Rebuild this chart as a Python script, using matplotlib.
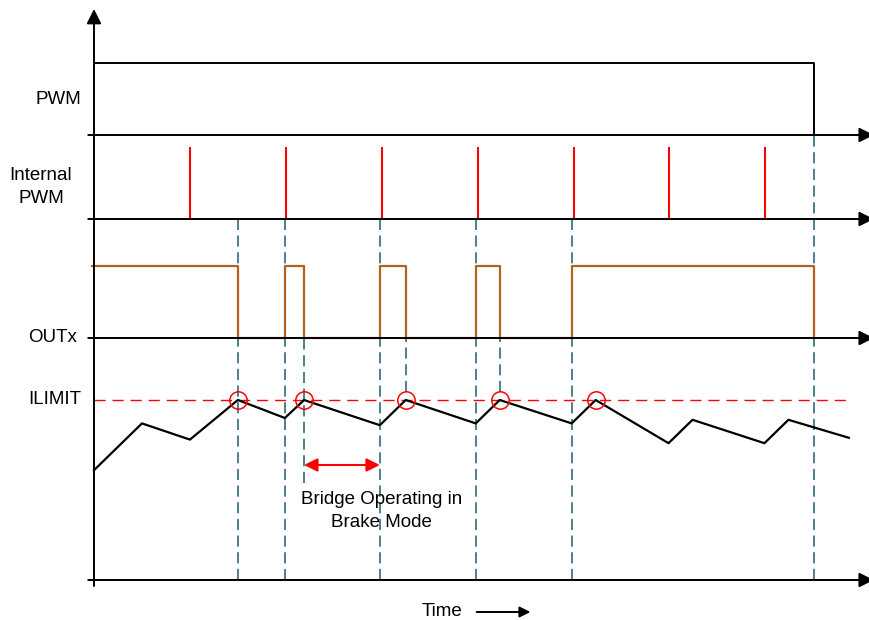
import matplotlib
matplotlib.use('Agg')
import matplotlib.pyplot as plt

plt.rcParams['font.family'] = ['Liberation Sans', 'DejaVu Sans']
plt.rcParams['lines.scale_dashes'] = False

# time in units of the internal PWM period
pwm_on = [0.0, 7.51]                       # input PWM high interval
chop_t = [1, 2, 3, 4, 5, 6, 7]             # internal PWM pulses
out_t = [-0.02, 1.50, 1.99, 2.19, 2.98, 3.25, 3.98, 4.23, 4.98, 7.51]
out_s = [1, 0, 1, 0, 1, 0, 1, 0, 1, 0]
cur_t = [0.0, 0.50, 1.0, 1.50, 1.99, 2.19, 2.98, 3.25, 3.98, 4.23,
         4.98, 5.23, 5.99, 6.24, 6.99, 7.24, 7.87]
cur_i = [0.61, 0.87, 0.78, 1.0, 0.90, 1.0, 0.86, 1.0, 0.87, 1.0,
         0.87, 1.0, 0.76, 0.89, 0.76, 0.89, 0.79]   # relative to ILIMIT
ilimit = 1.0
ilimit_end = 7.88
hit_t = [1.50, 2.19, 3.25, 4.23, 5.23]     # current reaches ILIMIT
sync_t = [1.50, 1.99, 2.98, 3.98, 4.98]    # OUTx edges at internal PWM
brake = (2.19, 2.98)
labels = ['PWM', 'Internal\nPWM', 'OUTx', 'ILIMIT']

# layout (vertical lanes)
T0, T1 = -0.98, 8.08
Y0, Y1 = -40, 580
base_pwm, base_int, base_out, base_cur = 445, 361, 242, 0
H = 72
I_SCALE = 180
FS = 13.5

fig = plt.figure(figsize=(8.69, 6.2), dpi=100)
ax = fig.add_axes([0, 0, 1, 1])
ax.set_xlim(T0, T1)
ax.set_ylim(Y0, Y1)
ax.axis('off')

teal = '#2E6A7C'
brown = '#B0621E'
arr = dict(arrowstyle='-|>', lw=1.4, color='k', mutation_scale=22,
           shrinkA=0, shrinkB=0)

# dashed sync lines
ax.vlines(sync_t, base_cur, base_int, color=teal, lw=1.2, ls=(0, (8, 4)), zorder=1)
ax.vlines(pwm_on[1], base_cur, base_pwm, color=teal, lw=1.2, ls=(0, (8, 4)), zorder=1)
ax.vlines(brake[0], 97, base_out, color=teal, lw=1.2, ls=(0, (8, 4)), zorder=1)
ax.vlines(hit_t[2:4], 188, base_out, color=teal, lw=1.2, ls=(0, (8, 4)), zorder=1)

# axes with arrows
for b in [base_pwm, base_int, base_out, base_cur]:
    ax.annotate('', xy=(T1 + 0.05, b), xytext=(-0.06, b), arrowprops=arr,
                zorder=3, annotation_clip=False)
ax.annotate('', xy=(0, 571), xytext=(0, -6), arrowprops=arr, zorder=3)

# PWM
ax.plot([pwm_on[0], pwm_on[1], pwm_on[1]], [base_pwm + H, base_pwm + H, base_pwm],
        color='k', lw=1.4, zorder=2)

# internal PWM pulses
ax.vlines(chop_t, base_int, base_int + H, color='red', lw=1.5, zorder=2)

# OUTx
ax.step(out_t, [base_out + s * H for s in out_s], where='post', color=brown, lw=1.6, zorder=2)

# current and ILIMIT
ax.plot([0, ilimit_end], [ilimit * I_SCALE] * 2, color='red', lw=1.0, ls=(0, (8, 5)), zorder=2)
ax.plot(cur_t, [i * I_SCALE for i in cur_i], color='k', lw=1.6, zorder=2)
ax.plot(hit_t, [ilimit * I_SCALE] * len(hit_t), 'o', mfc='none', mec='red', ms=12.5,
        mew=1.1, zorder=4)

# brake mode arrow
ax.annotate('', xy=(brake[1], 115), xytext=(brake[0], 115),
            arrowprops=dict(arrowstyle='<|-|>', lw=1.5, color='red', mutation_scale=20,
                            shrinkA=0, shrinkB=0))
ax.text(3.0, 69, 'Bridge Operating in\nBrake Mode', ha='center', va='center',
        fontsize=FS, linespacing=1.5)

# labels
ax.text(-0.136, base_pwm + 35, labels[0], ha='right', va='center', fontsize=FS)
ax.text(-0.553, base_int + 32, labels[1], ha='center', va='center', fontsize=FS, linespacing=1.42)
ax.text(-0.177, base_out, labels[2], ha='right', va='center', fontsize=FS)
ax.text(-0.136, ilimit * I_SCALE, labels[3], ha='right', va='center', fontsize=FS)

ax.text(3.63, -32, 'Time', ha='center', va='center', fontsize=FS)
ax.annotate('', xy=(4.55, -32), xytext=(3.99, -32),
            arrowprops=dict(arrowstyle='-|>', lw=1.4, color='k', mutation_scale=16,
                            shrinkA=0, shrinkB=0))

fig.savefig('out.png', dpi=100)
